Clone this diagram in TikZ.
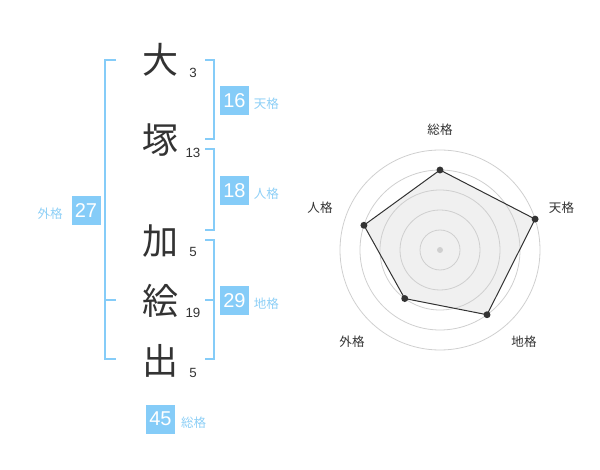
\documentclass[tikz,border=0pt]{standalone}
\usepackage{fontspec}
\setmainfont{Liberation Sans}
\newfontfamily\jp{Noto Sans CJK JP}
\definecolor{sky}{HTML}{85CCF8}
\definecolor{skytext}{HTML}{8DCFF6}
\definecolor{ink}{HTML}{333333}
\definecolor{ringgray}{HTML}{CFCFCF}
\definecolor{areagray}{HTML}{F0F0F0}
\tikzset{
  kanji/.style={font=\jp\fontsize{27}{27}\selectfont,text=ink,inner sep=0pt},
  strokes/.style={font=\fontsize{10}{10}\selectfont,text=ink,inner sep=0pt},
  score/.style={fill=sky,text=white,font=\fontsize{15}{15}\selectfont,minimum size=21.75pt,inner sep=0pt},
  kaku/.style={font=\jp\fontsize{9.4}{9.4}\selectfont,text=skytext,inner sep=0pt,yshift=-2.5pt},
  brace/.style={draw=sky,line width=1.5pt},
  axislabel/.style={font=\jp\fontsize{9.4}{9.4}\selectfont,text=ink,inner sep=0pt},
  ring/.style={draw=ringgray,line width=0.6pt},
  dot/.style={circle,fill=ink,inner sep=0pt,minimum size=5.2pt},
  hub/.style={circle,fill=ringgray,inner sep=0pt,minimum size=4.5pt}
}
\begin{document}
\begin{tikzpicture}[x=0.75pt,y=-0.75pt,semithick]
            \useasboundingbox(0,0)rectangle(600,470);
            \node[kanji](dai)at(160,60){大};\node[kanji](tsuka)at(160,140){塚};
            \node[kanji](ka)at(160,241){加};\node[kanji](e)at(160,301){絵};
            \node[kanji](de)at(160,361){出};
            \node[strokes](ndai)at(193,73){3};\node[strokes](ntsuka)at(193,153){13};
            \node[strokes](nka)at(193,252){5};\node[strokes](ne)at(193,312.5){19};
            \node[strokes](nde)at(193,372.5){5};
            \draw[brace](116,60)-|(105,359)--(116,359);\draw[brace](105,300)--(116,300);
            \draw[brace](205,60)-|(214,139)--(205,139);
            \draw[brace](205,149)-|(214,230)--(205,230);
            \draw[brace](205,240)-|(214,359)--(205,359);\draw[brace](205,300)--(214,300);
            \node[score](ten)at(234.5,100.5){16};\node[kaku,right=3pt](tenl)at(ten.east){天格};
            \node[score](jin)at(234.5,190.5){18};\node[kaku,right=3pt](jinl)at(jin.east){人格};
            \node[score](chi)at(234.5,300.5){29};\node[kaku,right=3pt](chil)at(chi.east){地格};
            \node[score](gai)at(86,210.5){27};\node[kaku,left=6pt](gail)at(gai.west){外格};
            \node[score](so)at(160.5,419){45};\node[kaku,right=4pt](sol)at(so.east){総格};
            \begin{scope}[shift={(440,250)},yscale=-1]
            \coordinate(rso)at(90:80);\coordinate(rten)at(18:100);
            \coordinate(rchi)at(-54:80);\coordinate(rgai)at(-126:60);
            \coordinate(rjin)at(162:80);
            \fill[areagray](rso)--(rten)--(rchi)--(rgai)--(rjin)--cycle;
            \foreach \r in {20,40,60,80,100}\draw[ring](0,0)circle(\r);
            \draw[ink,line width=0.75pt](rso)--(rten)--(rchi)--(rgai)--(rjin)--cycle;
            \foreach \p in {rso,rten,rchi,rgai,rjin}\node[dot](d\p)at(\p){};
            \node[hub](hub)at(0,0){};
            \end{scope}
            \node[axislabel](aso)at(440,130){総格};\node[axislabel](aten)at(561.5,208){天格};
            \node[axislabel](achi)at(524,341.5){地格};\node[axislabel](agai)at(352,341.5){外格};
            \node[axislabel](ajin)at(320,208){人格};
        \end{tikzpicture}
\end{document}
